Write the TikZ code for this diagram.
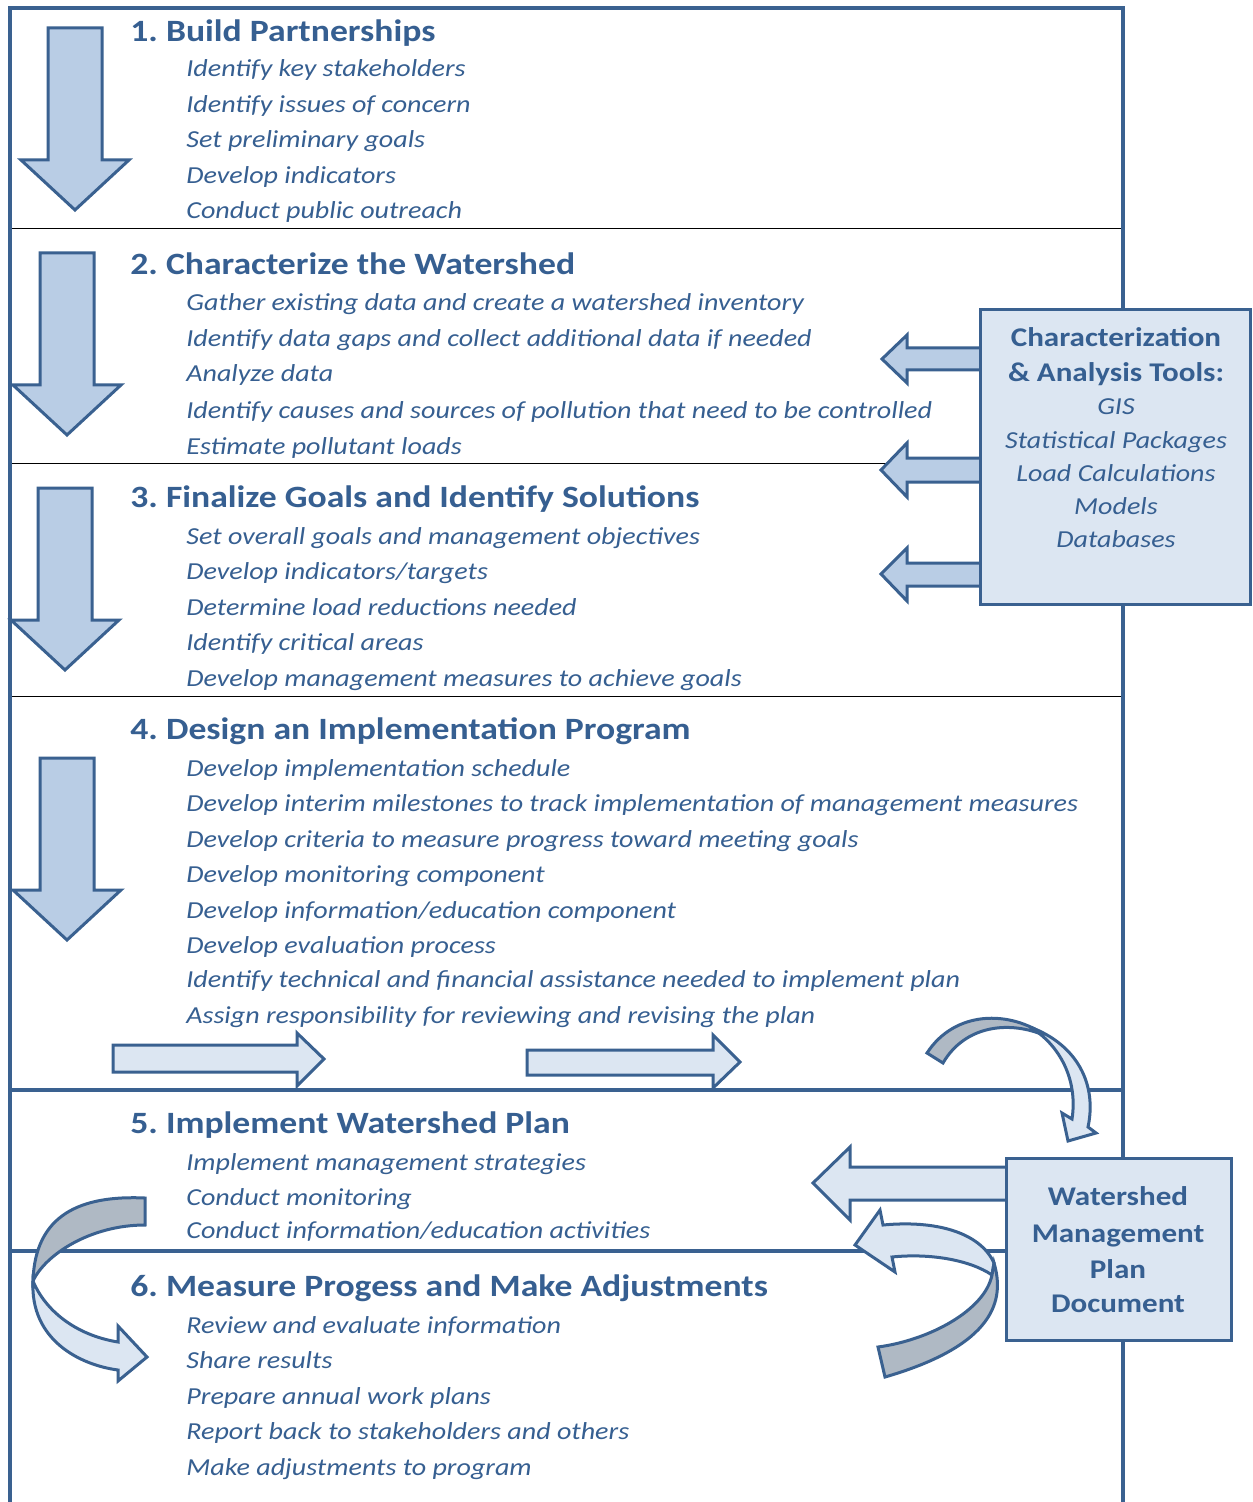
\documentclass[tikz,border=0pt]{standalone}
\usepackage{fontspec}
\setmainfont[FakeStretch=1.15]{Carlito}
\definecolor{tblue}{HTML}{365F91}
\definecolor{lblue}{HTML}{3A6190}
\definecolor{afill}{HTML}{B9CDE5}
\definecolor{lfill}{HTML}{DCE6F2}
\definecolor{gfill}{HTML}{AFB9C4}
\tikzset{
  title/.style={anchor=base west, inner sep=0pt, font=\fontsize{15.5}{18}\selectfont\bfseries, text=tblue},
  item/.style={anchor=base west, inner sep=0pt, font=\fontsize{12.2}{14}\selectfont\itshape, text=tblue},
  boxbold/.style={anchor=base, inner sep=0pt, font=\fontsize{13.5}{16}\selectfont\bfseries, text=tblue},
  boxital/.style={anchor=base, inner sep=0pt, font=\fontsize{12.2}{14}\selectfont\itshape, text=tblue},
  arr/.style={draw=lblue, line width=1.5pt, line join=miter},
  frame/.style={draw=lblue, line width=2pt},
  thin/.style={draw=black, line width=0.5pt},
  downarr/.pic={
    \path[arr, fill=afill] (-27,0) -- (27,0) -- (27,132) -- (54,132) -- (0,182) -- (-54,132) -- (-27,132) -- cycle;
  }
}
\begin{document}
\frenchspacing
\begin{tikzpicture}[x=0.5pt,y=-0.5pt]
\useasboundingbox (0,0) rectangle (1252,1502);
\fill[white] (0,0) rectangle (1252,1502);

% separators
\draw[thin] (10,229) -- (1123,229);
\draw[thin] (10,463) -- (1123,463);
\draw[thin] (10,696) -- (1123,696);
\draw[frame] (10,1090) -- (1123,1090);
\draw[frame] (10,1251) -- (1123,1251);
\draw[frame, line join=miter] (10,1502) -- (10,8) -- (1123,8) -- (1123,1502);

% down arrows
\pic at (75,28) {downarr};
\pic at (67,253) {downarr};
\pic at (65,488) {downarr};
\pic at (67,758) {downarr};

% section 1
\node[title] (t1) at (130,42) {1. Build Partnerships};
\node[item] (i11) at (186,77) {Identify key stakeholders};
\node[item] (i12) at (186,113) {Identify issues of concern};
\node[item] (i13) at (186,148) {Set preliminary goals};
\node[item] (i14) at (186,184) {Develop indicators};
\node[item] (i15) at (186,219) {Conduct public outreach};
% section 2
\node[title] (t2) at (130,275) {2. Characterize the Watershed};
\node[item] (i21) at (186,311) {Gather existing data and create a watershed inventory};
\node[item] (i22) at (186,347) {Identify data gaps and collect additional data if needed};
\node[item] (i23) at (186,382) {Analyze data};
\node[item] (i24) at (186,418) {Identify causes and sources of pollution that need to be controlled};
\node[item] (i25) at (186,454) {Estimate pollutant loads};
% section 3
\node[title] (t3) at (130,507) {3. Finalize Goals and Identify Solutions};
\node[item] (i31) at (186,544) {Set overall goals and management objectives};
\node[item] (i32) at (186,579) {Develop indicators/targets};
\node[item] (i33) at (186,615) {Determine load reductions needed};
\node[item] (i34) at (186,650) {Identify critical areas};
\node[item] (i35) at (186,686) {Develop management measures to achieve goals};
% section 4
\node[title] (t4) at (130,739) {4. Design an Implementation Program};
\node[item] (i41) at (186,776) {Develop implementation schedule};
\node[item] (i42) at (186,811) {Develop interim milestones to track implementation of management measures};
\node[item] (i43) at (186,847) {Develop criteria to measure progress toward meeting goals};
\node[item] (i44) at (186,882) {Develop monitoring component};
\node[item] (i45) at (186,918) {Develop information/education component};
\node[item] (i46) at (186,953) {Develop evaluation process};
\node[item] (i47) at (186,987) {Identify technical and financial assistance needed to implement plan};
\node[item] (i48) at (186,1023) {Assign responsibility for reviewing and revising the plan};
% section 5
\node[title] (t5) at (130,1133) {5. Implement Watershed Plan};
\node[item] (i51) at (186,1170) {Implement management strategies};
\node[item] (i52) at (186,1205) {Conduct monitoring};
\node[item] (i53) at (186,1238) {Conduct information/education activities};
% section 6
\node[title] (t6) at (130,1296) {6. Measure Progess and Make Adjustments};
\node[item] (i61) at (186,1333) {Review and evaluate information};
\node[item] (i62) at (186,1368) {Share results};
\node[item] (i63) at (186,1404) {Prepare annual work plans};
\node[item] (i64) at (186,1439) {Report back to stakeholders and others};
\node[item] (i65) at (186,1475) {Make adjustments to program};

% horizontal arrows in section 4
\path[arr, fill=lfill] (113,1045) -- (297,1045) -- (297,1033) -- (324,1059) -- (297,1086) -- (297,1072) -- (113,1072) -- cycle;
\path[arr, fill=lfill] (527,1050) -- (713,1050) -- (713,1035) -- (740,1062) -- (713,1088) -- (713,1075) -- (527,1075) -- cycle;

% arrows from characterization box
\path[arr, fill=afill] (990,348) -- (907,348) -- (907,335) -- (882,359) -- (907,383) -- (907,370) -- (990,370) -- cycle;
\path[arr, fill=afill] (990,458) -- (907,458) -- (907,443) -- (881,470) -- (907,497) -- (907,482) -- (990,482) -- cycle;
\path[arr, fill=afill] (990,563) -- (907,563) -- (907,548) -- (881,574) -- (907,601) -- (907,586) -- (990,586) -- cycle;

% characterization box
\path[arr, fill=lfill] (980,310) rectangle (1250,604);
\node[boxbold] (c1) at (1116,347) {Characterization};
\node[boxbold] (c2) at (1116,382) {\&~Analysis Tools:};
\node[boxital] (c3) at (1116,415) {GIS};
\node[boxital] (c4) at (1116,448) {Statistical Packages};
\node[boxital] (c5) at (1116,481) {Load Calculations};
\node[boxital] (c6) at (1116,514) {Models};
\node[boxital] (c7) at (1116,547) {Databases};

% big left arrow from WMP box
\path[arr, fill=lfill] (1016,1167) -- (850,1167) -- (850,1147) -- (813,1183) -- (850,1220) -- (850,1200) -- (1016,1200) -- cycle;

% curved arrow top right
\path[arr, fill=gfill] (927,1053) .. controls (955,1010) and (1010,1010) .. (1046,1036)
  .. controls (1010,1020) and (965,1025) .. (943,1063) -- cycle;
\path[arr, fill=lfill] (1030,1027) .. controls (1078,1045) and (1097,1085) .. (1088,1127)
  -- (1096,1133) -- (1068,1141) -- (1062,1113) -- (1072,1119)
  .. controls (1078,1080) and (1060,1045) .. (1030,1027) -- cycle;

% curved arrow bottom left
\path[arr, fill=gfill] (145,1198) .. controls (80,1195) and (35,1215) .. (33,1281)
  .. controls (45,1255) and (90,1225) .. (145,1225) -- cycle;
\path[arr, fill=lfill] (33,1281) .. controls (30,1340) and (80,1365) .. (118,1370)
  -- (118,1381) -- (147,1357) -- (118,1326) -- (118,1342)
  .. controls (75,1335) and (45,1310) .. (33,1281) -- cycle;

% curved arrow bottom right
\path[arr, fill=lfill] (883,1225) .. controls (935,1220) and (980,1232) .. (994,1263)
  -- (992,1275) .. controls (970,1260) and (930,1253) .. (892,1257)
  -- (895,1272) -- (855,1245) -- (880,1210) -- cycle;
\path[arr, fill=gfill] (994,1263) .. controls (1005,1300) and (995,1345) .. (885,1377)
  -- (878,1347) .. controls (930,1340) and (985,1310) .. (992,1275) -- cycle;

% WMP box
\path[arr, fill=lfill] (1006,1158) rectangle (1231,1340);
\node[boxbold] (w1) at (1118,1205) {Watershed};
\node[boxbold] (w2) at (1118,1242) {Management};
\node[boxbold] (w3) at (1118,1278) {Plan};
\node[boxbold] (w4) at (1118,1312) {Document};
\end{tikzpicture}
\end{document}
